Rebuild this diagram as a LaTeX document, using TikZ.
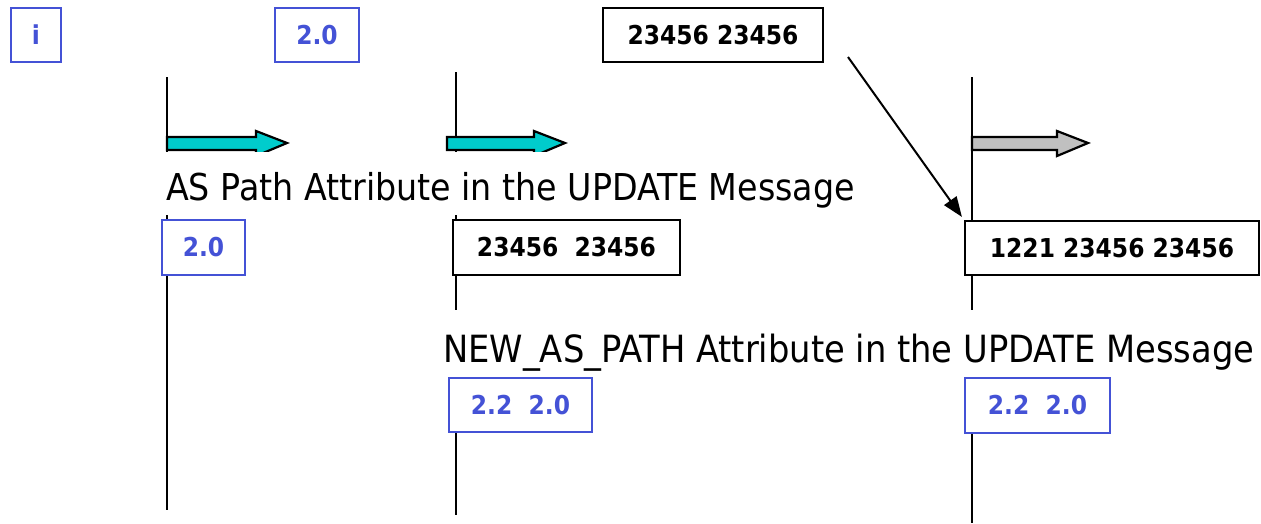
\documentclass[tikz,border=0pt]{standalone}
\usepackage{fontspec}
\setmainfont{DejaVu Sans}
\newfontfamily\condfont{DejaVu Sans Condensed}
\usetikzlibrary{arrows, arrows.meta}
\usetikzlibrary{calc}

\definecolor{asblue}{RGB}{68,82,214}
\definecolor{arrowcyan}{RGB}{0,204,204}
\definecolor{arrowgray}{RGB}{192,192,192}

\tikzset{
  lifeline/.style={line width=2.2pt},
  pathbox/.style={draw, line width=2.2pt, fill=white, inner sep=0pt, font=\condfont\bfseries\fontsize{26}{28}\selectfont},
  bluebox/.style={pathbox, draw=asblue, text=asblue},
  blackbox/.style={pathbox, draw=black, text=black},
  caption/.style={fill=white, inner xsep=5pt, inner ysep=0pt, anchor=base west, font=\condfont\fontsize{37}{42}\selectfont}
}

\begin{document}
\begin{tikzpicture}[x=1pt, y=-1pt]
  \useasboundingbox (0,0) rectangle (1261,523);

  % lifelines
  \coordinate (s1top) at (167,77);
  \coordinate (s1bot) at (167,510);
  \coordinate (s2top) at (456,72);
  \coordinate (s2bot) at (456,515);
  \coordinate (s3top) at (972,77);
  \coordinate (s3bot) at (972,523);

  \draw[lifeline] (s1top) -- (s1bot);
  \draw[lifeline] (s2top) -- (s2bot);
  \draw[lifeline] (s3top) -- (s3bot);

  % block arrows
  \foreach \x/\len/\c in {167/120/arrowcyan, 447/118/arrowcyan, 972/116/arrowgray}
    \draw[line width=2.2pt, fill=\c]
      (\x,137) -- ({\x+\len-31},137) -- ({\x+\len-31},131) -- ({\x+\len},143)
      -- ({\x+\len-31},156) -- ({\x+\len-31},150) -- (\x,150) -- cycle;

  % top row
  \node[bluebox, minimum width=50pt, minimum height=54pt] (asi) at (36,35) {i};
  \node[bluebox, minimum width=84pt, minimum height=54pt] (as20) at (317,35) {2.0};
  \node[blackbox, minimum width=220pt, minimum height=54pt] (old) at (713,35) {23456 23456};

  % captions
  \node[caption, text height=48pt, text depth=15pt] (cap1) at (161,200) {AS Path Attribute in the UPDATE Message};
  \node[caption, text height=52pt, text depth=15pt, font=\condfont\fontsize{37.5}{42}\selectfont] (cap2) at (438,362) {NEW\_AS\_PATH Attribute in the UPDATE Message};

  % AS_PATH boxes
  \node[bluebox, minimum width=83pt, minimum height=55pt] (p1) at (203.5,247.5) {2.0};
  \node[blackbox, minimum width=227pt, minimum height=55pt] (p2) at (566.5,247.5) {23456\ \ 23456};
  \node[blackbox, minimum width=294pt, minimum height=54pt] (p3) at (1112,248) {1221 23456 23456};

  % NEW_AS_PATH boxes
  \node[bluebox, minimum width=143pt, minimum height=54pt] (n2) at (520.5,405) {2.2\ \ 2.0};
  \node[bluebox, minimum width=145pt, minimum height=55pt] (n3) at (1037.5,405.5) {2.2\ \ 2.0};

  % prepend arrow
  \coordinate (src) at (848,57);
  \draw[line width=2pt, -{Triangle[length=20pt, width=15pt]}] (src) -- ($(p3.north west)+(-2,-3)$);
\end{tikzpicture}
\end{document}
